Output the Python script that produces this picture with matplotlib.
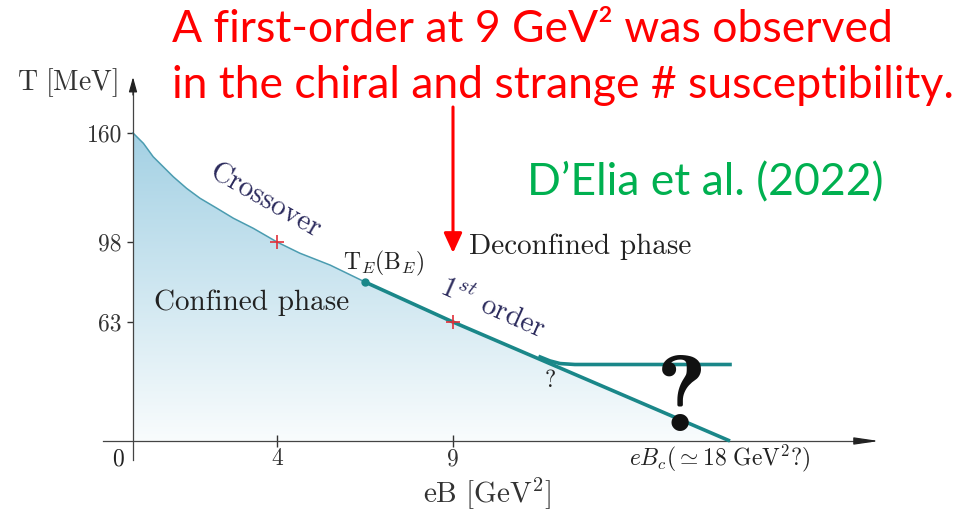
import numpy as np
import matplotlib
matplotlib.use('Agg')
import matplotlib.pyplot as plt
from matplotlib.patches import Polygon, FancyArrowPatch

plt.rcParams['font.family'] = ['cmr10']
plt.rcParams['mathtext.fontset'] = 'cm'
plt.rcParams['axes.unicode_minus'] = False

### Data (schematic phase diagram)
tick_eB = [0, 4, 9, 18]          # GeV^2 values marked on the eB axis
tick_T = [0, 63, 98, 160]        # MeV values marked on the T axis
cross_eB = [0, 0.29, 0.56, 0.84, 1.12, 1.49, 1.86, 2.33, 2.79, 3.34, 4.0,
            4.65, 5.51, 6.5]
cross_T = [160, 154.1, 146.5, 140.8, 135.1, 128.5, 122.9, 117.2, 111.5,
           105.8, 98, 93.1, 87.9, 80.5]
first_eB = [6.5, 9, 18]
first_T = [80.5, 63, 0]
branch_eB = [11.83, 12.15, 12.48, 12.96, 18]
branch_T = [44.5, 42.4, 41.0, 40.5, 40.5]
marks_eB = [4, 9]
marks_T = [98, 63]
end_eB = [6.5]
end_T = [80.5]

### Schematic (non-uniform) axis placement, in pixels
W, H = 969, 518
x_pix = [133, 277, 453, 730]
y_pix = [H - 441, H - 322, H - 242, H - 133]


def piecewise(src, dst):
  src = np.asarray(src, float)
  dst = np.asarray(dst, float)
  lo = (dst[1] - dst[0]) / (src[1] - src[0])
  hi = (dst[-1] - dst[-2]) / (src[-1] - src[-2])
  def f(v):
    v = np.asarray(v, float)
    out = np.interp(v, src, dst)
    out = np.where(v < src[0], dst[0] + (v - src[0]) * lo, out)
    out = np.where(v > src[-1], dst[-1] + (v - src[-1]) * hi, out)
    return out
  return f


xf, xi = piecewise(tick_eB, x_pix), piecewise(x_pix, tick_eB)
yf, yi = piecewise(tick_T, y_pix), piecewise(y_pix, tick_T)

fig = plt.figure(figsize=(W / 100, H / 100), dpi=100)
ax = fig.add_axes([0, 0, 1, 1])
ax.set_xscale('function', functions=(xf, xi))
ax.set_yscale('function', functions=(yf, yi))
ax.set_xlim(float(xi(0)), float(xi(W)))
ax.set_ylim(float(yi(0)), float(yi(H)))


def P(px, py):
  return px / W, 1 - py / H


# Gradient fill under the transition line
poly_eB = cross_eB + first_eB[1:] + [0]
poly_T = cross_T + first_T[1:] + [0]
poly = Polygon(np.column_stack([poly_eB, poly_T]), closed=True,
               facecolor='none', edgecolor='none')
ax.add_patch(poly)
top = np.array([164, 209, 228]) / 255.
bot = np.array([249, 252, 253]) / 255.
rows = np.arange(H)[:, None]
frac = np.clip((rows - 133) / (441 - 133), 0, 1)
grad = top + (bot - top) * frac
grad = np.repeat(grad[:, None, :], 2, axis=1)
im = ax.imshow(grad, extent=(0, 1, 0, 1), transform=ax.transAxes,
               aspect='auto', interpolation='bilinear', zorder=0)
im.set_clip_path(poly)

# Lines
ax.plot(cross_eB, cross_T, color='#4b9cb0', lw=1.1, zorder=2)
ax.plot(first_eB, first_T, color='#1a8789', lw=2.6, zorder=3,
        solid_capstyle='butt')
ax.plot(branch_eB, branch_T, color='#1a8789', lw=2.6, zorder=3)
ax.plot(end_eB, end_T, 'o', color='#1a8789', ms=5, zorder=4)
ax.plot(marks_eB, marks_T, '+', color='#e0303a', ms=10, mew=1.2, zorder=5)

# Axes with arrows
for s in ['top', 'right']:
  ax.spines[s].set_visible(False)
ax.spines['bottom'].set_position(('data', 0))
ax.spines['left'].set_position(('data', 0))
ax.spines['bottom'].set_bounds(float(xi(103)), float(xi(870)))
ax.spines['left'].set_bounds(float(yi(H - 460)), float(yi(H - 86)))
for s in ['bottom', 'left']:
  ax.spines[s].set_color('#444444')
  ax.spines[s].set_linewidth(0.9)
ax.annotate('', xy=(float(xi(879)), 0), xytext=(float(xi(855)), 0),
            arrowprops=dict(arrowstyle='-|>,head_length=1.5,head_width=0.22',
                            color='#222222', lw=0.9, shrinkA=0, shrinkB=0))
ax.annotate('', xy=(0, float(yi(H - 77))), xytext=(0, float(yi(H - 95))),
            arrowprops=dict(arrowstyle='-|>,head_length=0.9,head_width=0.25',
                            color='#222222', lw=0.9, shrinkA=0, shrinkB=0))

ax.set_xticks(tick_eB[1:3])
ax.set_xticklabels(['4', '9'])
ax.set_yticks(tick_T[1:])
ax.set_yticklabels(['63', '98', '160'])
ax.tick_params(axis='x', direction='inout', length=8, width=1, colors='#333333',
               labelsize=17, pad=1)
ax.tick_params(axis='y', direction='out', length=4, width=1, colors='#333333',
               labelsize=17, pad=4)
ax.minorticks_off()

txt = '#222222'
fig.text(*P(118, 459), '0', fontsize=17, color=txt, ha='center', va='center')
fig.text(*P(720, 458), r'$eB_c(\simeq 18\ \mathrm{GeV}^2?)$', fontsize=17,
         color=txt, ha='center', va='center')
fig.text(*P(67, 83), r'$\mathrm{T\ [MeV]}$', fontsize=20, color='#333333',
         ha='center', va='center')
fig.text(*P(487, 494), r'$\mathrm{eB\ [GeV^2]}$', fontsize=21, color='#333333',
         ha='center', va='center')

# Phase labels
fig.text(*P(265, 201), 'Crossover', fontsize=21, color='#2b2a5c',
         rotation=-30, ha='center', va='center', rotation_mode='anchor')
fig.text(*P(492, 308), r'$1^{st}$ order', fontsize=21, color='#2b2a5c',
         rotation=-24, ha='center', va='center', rotation_mode='anchor')
fig.text(*P(384, 263), r'$\mathrm{T}_E(\mathrm{B}_E)$', fontsize=17, color=txt,
         ha='center', va='center')
fig.text(*P(580, 247), 'Deconfined phase', fontsize=21, color=txt,
         ha='center', va='center')
fig.text(*P(252, 303), 'Confined phase', fontsize=21, color=txt,
         ha='center', va='center')
fig.text(*P(550, 381), '?', fontsize=17, color=txt, ha='center', va='center')
fig.text(*P(681, 431), '?', fontsize=78, color='#111111', family='cmb10',
         ha='center', va='baseline')

# Annotation on top
red = '#ff0000'
fig.text(*P(172, 42), 'A first-order at 9 GeV\u00b2 was observed',
         fontsize=32, color=red, family='Lato', ha='left', va='baseline')
fig.text(*P(172, 98), 'in the chiral and strange # susceptibility.',
         fontsize=32, color=red, family='Lato', ha='left', va='baseline')
fig.text(*P(527, 195), 'D\u2019Elia et al. (2022)', fontsize=32,
         color='#00b050', family='Lato', ha='left', va='baseline')
fig.add_artist(FancyArrowPatch(
  P(453, 107), P(453, 253), transform=fig.transFigure,
  arrowstyle='-|>,head_length=1.2,head_width=0.55', mutation_scale=10,
  color=red, lw=2.2, shrinkA=0, shrinkB=0))

fig.savefig('out.png', dpi=100)
